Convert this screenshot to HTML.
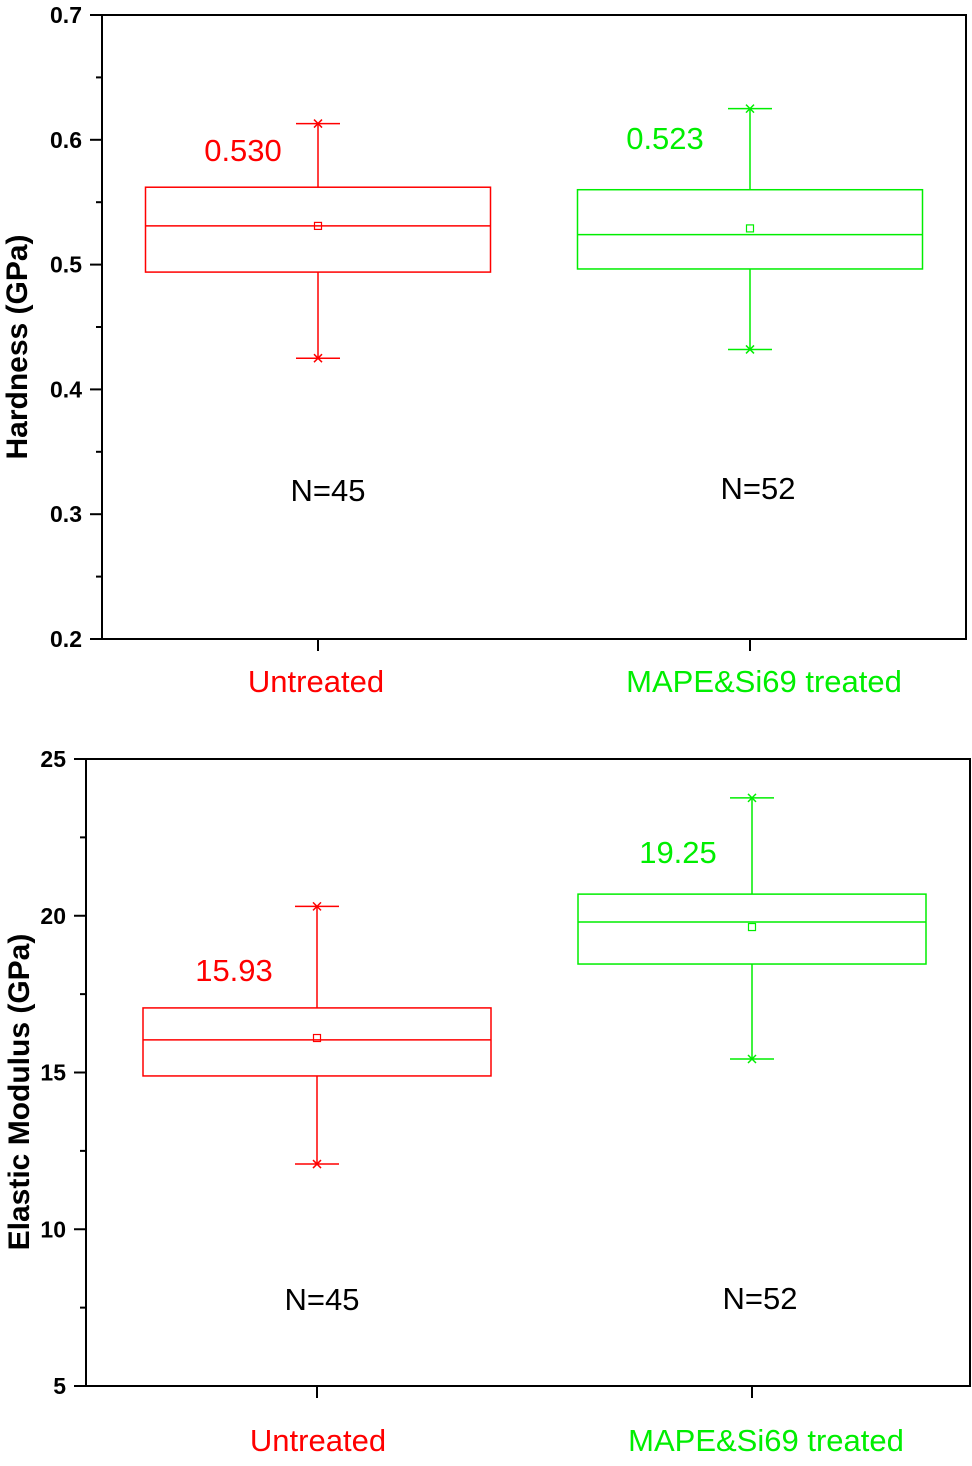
<!DOCTYPE html>
<html><head><meta charset="utf-8"><style>
body{margin:0;background:#fff}
svg text{font-family:"Liberation Sans",Arial,sans-serif}
</style></head><body>
<svg id="chart" width="972" height="1461" xmlns="http://www.w3.org/2000/svg"></svg>
<script>
const categories = ["Untreated", "MAPE&Si69 treated"];
const colors = ["#ff0000", "#00ee00"];
const counts = ["N=45", "N=52"];
// hardness
const hardQ1 = [0.494, 0.4965];
const hardQ3 = [0.562, 0.560];
const hardMedian = [0.531, 0.524];
const hardMean = [0.531, 0.529];
const hardMin = [0.425, 0.432];
const hardMax = [0.613, 0.625];
const hardLabels = ["0.530", "0.523"];
const hardTicks = [0.2, 0.3, 0.4, 0.5, 0.6, 0.7];
const hardTickLabels = ["0.2", "0.3", "0.4", "0.5", "0.6", "0.7"];
// modulus
const modQ1 = [14.89, 18.46];
const modQ3 = [17.06, 20.69];
const modMedian = [16.04, 19.80];
const modMean = [16.10, 19.64];
const modMin = [12.08, 15.43];
const modMax = [20.3, 23.76];
const modLabels = ["15.93", "19.25"];
const modTicks = [5, 10, 15, 20, 25];
const modTickLabels = ["5", "10", "15", "20", "25"];

const svg = document.getElementById('chart');
const NS = "http://www.w3.org/2000/svg";
function mk(tag, attrs, name, parent) {
  const e = document.createElementNS(NS, tag);
  for (const k in attrs) e.setAttribute(k, attrs[k]);
  
  
  (parent || svg).appendChild(e);
  return e;
}
function chart(cfg) {
  const g = mk('g', {}, cfg.name);
  const y = v => cfg.y1 + (cfg.vmax - v) / (cfg.vmax - cfg.vmin) * (cfg.y2 - cfg.y1);
  mk('rect', {x: cfg.x1, y: cfg.y1, width: cfg.x2 - cfg.x1, height: cfg.y2 - cfg.y1, fill: 'none', stroke: '#000', 'stroke-width': 2}, 'plot-frame', g);
  const step = cfg.ticks[1] - cfg.ticks[0];
  cfg.ticks.forEach((t, i) => {
    mk('line', {x1: cfg.x1 - 12, x2: cfg.x1, y1: y(t), y2: y(t), stroke: '#000', 'stroke-width': 2}, 'y-tick', g);
    const tx = mk('text', {x: cfg.x1 - 20, y: y(t) + 8, 'text-anchor': 'end', 'font-size': 23, 'font-weight': 'bold'}, 'y-tick-label', g);
    tx.textContent = cfg.tickLabels[i];
    if (i < cfg.ticks.length - 1) {
      const m = t + step / 2;
      mk('line', {x1: cfg.x1 - 6, x2: cfg.x1, y1: y(m), y2: y(m), stroke: '#000', 'stroke-width': 2}, 'y-minor-tick', g);
    }
  });
  const yt = mk('text', {x: 0, y: 0, 'text-anchor': 'middle', 'font-size': 30, 'font-weight': 'bold', transform: `translate(${cfg.titleX},${cfg.titleY}) rotate(-90)`}, 'y-axis-title', g);
  yt.textContent = cfg.title;
  categories.forEach((c, i) => {
    const cx = cfg.cx[i], hw = cfg.hw, col = colors[i];
    mk('line', {x1: cx, x2: cx, y1: cfg.y2, y2: cfg.y2 + 12, stroke: '#000', 'stroke-width': 2}, 'x-tick', g);
    const xl = mk('text', {x: cfg.xl[i], y: cfg.y2 + cfg.xlOff, 'text-anchor': 'middle', 'font-size': 31, fill: col}, 'x-tick-label', g);
    xl.textContent = c;
    mk('line', {x1: cx, x2: cx, y1: y(cfg.max[i]), y2: y(cfg.q3[i]), stroke: col, 'stroke-width': 1.5}, 'whisker-upper', g);
    mk('line', {x1: cx, x2: cx, y1: y(cfg.q1[i]), y2: y(cfg.min[i]), stroke: col, 'stroke-width': 1.5}, 'whisker-lower', g);
    [cfg.max[i], cfg.min[i]].forEach(v => {
      mk('line', {x1: cx - 22, x2: cx + 22, y1: y(v), y2: y(v), stroke: col, 'stroke-width': 1.5}, 'whisker-cap', g);
      mk('path', {d: `M${cx-4},${y(v)-4}L${cx+4},${y(v)+4}M${cx-4},${y(v)+4}L${cx+4},${y(v)-4}`, stroke: col, 'stroke-width': 1.5}, 'extreme-marker', g);
    });
    mk('rect', {x: cx - hw, y: y(cfg.q3[i]), width: 2 * hw, height: y(cfg.q1[i]) - y(cfg.q3[i]), fill: 'none', stroke: col, 'stroke-width': 1.5}, 'box', g);
    mk('line', {x1: cx - hw, x2: cx + hw, y1: y(cfg.med[i]), y2: y(cfg.med[i]), stroke: col, 'stroke-width': 1.5}, 'median-line', g);
    mk('rect', {x: cx - 3.5, y: y(cfg.mean[i]) - 3.5, width: 7, height: 7, fill: 'none', stroke: col, 'stroke-width': 1.2}, 'mean-marker', g);
    const vl = mk('text', {x: cfg.lab[i][0], y: cfg.lab[i][1], 'text-anchor': 'middle', 'font-size': 31, fill: col}, 'value-label', g);
    vl.textContent = cfg.labels[i];
    const nl = mk('text', {x: cfg.nl[i][0], y: cfg.nl[i][1], 'text-anchor': 'middle', 'font-size': 31, fill: '#000'}, 'count-label', g);
    nl.textContent = counts[i];
  });
}
chart({name: 'hardness-chart', x1: 102, x2: 966, y1: 15, y2: 639, vmin: 0.2, vmax: 0.7, ticks: hardTicks, tickLabels: hardTickLabels,
  title: 'Hardness (GPa)', titleX: 27, titleY: 347, cx: [318, 750], xl: [316, 764], xlOff: 53, hw: 172.5, q1: hardQ1, q3: hardQ3, med: hardMedian, mean: hardMean, min: hardMin, max: hardMax,
  labels: hardLabels, lab: [[243, 161], [665, 149]], nl: [[328, 501], [758, 499]]});
chart({name: 'modulus-chart', x1: 86, x2: 970, y1: 759, y2: 1386, vmin: 5, vmax: 25, ticks: modTicks, tickLabels: modTickLabels,
  title: 'Elastic Modulus (GPa)', titleX: 29, titleY: 1092, cx: [317, 752], xl: [318, 766], xlOff: 65, hw: 174, q1: modQ1, q3: modQ3, med: modMedian, mean: modMean, min: modMin, max: modMax,
  labels: modLabels, lab: [[234, 981], [678, 863]], nl: [[322, 1310], [760, 1309]]});
</script>
</body></html>
